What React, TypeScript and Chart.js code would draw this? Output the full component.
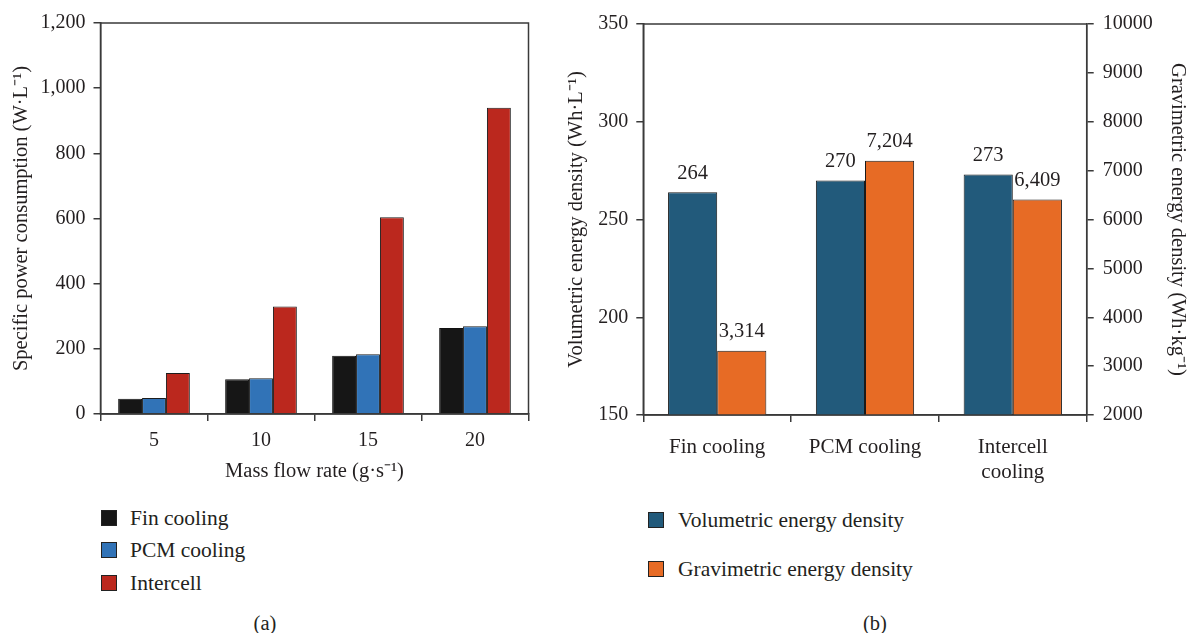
import React, { useEffect, useRef } from "react";
import { Chart, registerables } from "chart.js";

Chart.register(...registerables);

// ---------- data: chart (a) ----------
const flowRates = ["5", "10", "15", "20"];
const finCooling = [47, 107, 179, 264];
const pcmCooling = [49, 110, 183, 269];
const intercell = [126, 330, 604, 940];
const powerTicks = { min: 0, max: 1200, step: 200 };

// ---------- data: chart (b) ----------
const methods: (string | string[])[] = ["Fin cooling", "PCM cooling", ["Intercell", "cooling"]];
const volumetric = [264, 270, 273];
const gravimetric = [3314, 7204, 6409];
const volTicks = { min: 150, max: 350, step: 50 };
const gravTicks = { min: 2000, max: 10000, step: 1000 };

const C_FIN = "#161616";
const C_PCM = "#3173b7";
const C_INT = "#bb281e";
const C_VOL = "#225a7b";
const C_GRAV = "#e76b25";
const AXIS = "#3a3a3a";
const TEXT = "#231f20";
const FONT = "'Liberation Serif', 'Times New Roman', serif";

const boxPlugin = {
  id: "box",
  afterDraw(chart: any) {
    const { ctx, chartArea: a } = chart;
    ctx.save();
    ctx.strokeStyle = AXIS;
    ctx.lineWidth = 1.5;
    ctx.strokeRect(a.left, a.top, a.right - a.left, a.bottom - a.top);
    ctx.restore();
  },
};

const valueLabelPlugin = {
  id: "valueLabels",
  afterDatasetsDraw(chart: any) {
    const { ctx } = chart;
    ctx.save();
    ctx.font = `20.5px ${FONT}`;
    ctx.fillStyle = TEXT;
    ctx.textAlign = "center";
    ctx.textBaseline = "middle";
    chart.data.datasets.forEach((ds: any, di: number) => {
      const meta = chart.getDatasetMeta(di);
      meta.data.forEach((bar: any, i: number) => {
        const v = ds.data[i];
        ctx.fillText(Number(v).toLocaleString("en-US"), bar.x, bar.y - 19);
      });
    });
    ctx.restore();
  },
};

function yAxisCommon(tickPadding: number) {
  return {
    grid: { drawOnChartArea: false, drawTicks: true, tickLength: 7, color: AXIS, lineWidth: 1.5 },
    border: { display: true, color: AXIS, width: 1.5 },
    ticks: { color: TEXT, padding: tickPadding, font: { size: 20, family: FONT } },
  };
}

export default function App() {
  const refA = useRef<HTMLCanvasElement>(null);
  const refB = useRef<HTMLCanvasElement>(null);

  useEffect(() => {
    Chart.defaults.font.family = FONT;
    Chart.defaults.font.size = 20;
    Chart.defaults.color = TEXT;

    const chartA = new Chart(refA.current!, {
      type: "bar",
      data: {
        labels: flowRates,
        datasets: [
          { label: "Fin cooling", data: finCooling, backgroundColor: C_FIN, borderColor: "#111", borderWidth: 1 },
          { label: "PCM cooling", data: pcmCooling, backgroundColor: C_PCM, borderColor: "#1d1d1d", borderWidth: 1 },
          { label: "Intercell", data: intercell, backgroundColor: C_INT, borderColor: "#1d1d1d", borderWidth: 1 },
        ],
      },
      options: {
        animation: false,
        responsive: false,
        maintainAspectRatio: false,
        layout: { padding: { top: 23, right: 1.5, left: 0, bottom: 0 } },
        datasets: { bar: { categoryPercentage: 0.67, barPercentage: 1.0 } },
        plugins: { legend: { display: false }, tooltip: { enabled: false } },
        scales: {
          x: {
            grid: { offset: true, drawOnChartArea: false, drawTicks: true, tickLength: 7, color: AXIS, lineWidth: 1.5 },
            border: { display: true, color: AXIS, width: 1.5 },
            ticks: { color: TEXT, padding: 8, font: { size: 20, family: FONT } },
            title: {
              display: true,
              text: "Mass flow rate (g·s⁻¹)",
              color: TEXT,
              font: { size: 20.5, family: FONT },
              padding: { top: 0, bottom: 11 },
            },
            afterFit: (s: any) => { s.height = 81; },
          },
          y: {
            ...yAxisCommon(8),
            min: powerTicks.min,
            max: powerTicks.max,
            ticks: { ...yAxisCommon(8).ticks, stepSize: powerTicks.step },
            title: {
              display: true,
              text: "Specific power consumption (W·L⁻¹)",
              color: TEXT,
              font: { size: 20.5, family: FONT },
              padding: { top: 9, bottom: 0 },
            },
            afterFit: (s: any) => { s.width = 100.5; },
          },
        },
      },
      plugins: [boxPlugin],
    } as any);

    const chartB = new Chart(refB.current!, {
      type: "bar",
      data: {
        labels: methods,
        datasets: [
          { label: "Volumetric energy density", data: volumetric, yAxisID: "y", backgroundColor: C_VOL, borderColor: "#1a1a1a", borderWidth: 1 },
          { label: "Gravimetric energy density", data: gravimetric, yAxisID: "y2", backgroundColor: C_GRAV, borderColor: "#1a1a1a", borderWidth: 1 },
        ],
      },
      options: {
        animation: false,
        responsive: false,
        maintainAspectRatio: false,
        layout: { padding: { top: 24, right: 0, left: 0, bottom: 0 } },
        datasets: { bar: { categoryPercentage: 0.665, barPercentage: 1.0 } },
        plugins: { legend: { display: false }, tooltip: { enabled: false } },
        scales: {
          x: {
            grid: { offset: true, drawOnChartArea: false, drawTicks: true, tickLength: 7, color: AXIS, lineWidth: 1.5 },
            border: { display: true, color: AXIS, width: 1.5 },
            ticks: { color: TEXT, padding: 13, font: { size: 21, family: FONT } },
            afterFit: (s: any) => { s.height = 80; },
          },
          y: {
            ...yAxisCommon(8),
            position: "left",
            min: volTicks.min,
            max: volTicks.max,
            ticks: { ...yAxisCommon(8).ticks, stepSize: volTicks.step },
            title: {
              display: true,
              text: "Volumetric energy density (Wh·L⁻¹)",
              color: TEXT,
              font: { size: 20.5, family: FONT },
              padding: { top: 4, bottom: 0 },
            },
            afterFit: (s: any) => { s.width = 83.3; },
          },
          y2: {
            ...yAxisCommon(9),
            position: "right",
            min: gravTicks.min,
            max: gravTicks.max,
            ticks: { ...yAxisCommon(9).ticks, stepSize: gravTicks.step, callback: (v: any) => String(v) },
            title: {
              display: true,
              text: "Gravimetric energy density (Wh·kg⁻¹)",
              color: TEXT,
              font: { size: 20.5, family: FONT },
              padding: { top: 0, bottom: 0 },
            },
            afterFit: (s: any) => { s.width = 103.3; },
          },
        },
      },
      plugins: [boxPlugin, valueLabelPlugin],
    } as any);

    return () => {
      chartA.destroy();
      chartB.destroy();
    };
  }, []);

  const legendItem = (color: string, label: string, left: number, cy: number, textLeft: number) => (
    <div key={label} style={{ position: "absolute", left, top: cy - 8, height: 16, display: "flex", alignItems: "center" }}>
      <div style={{ width: 16, height: 16, boxSizing: "border-box", background: color, border: "1px solid #222" }} />
      <span style={{ position: "absolute", left: textLeft - left, top: -5, whiteSpace: "nowrap", fontSize: 21.5, lineHeight: "26px", fontFamily: FONT, color: TEXT }}>
        {label}
      </span>
    </div>
  );

  return (
    <div style={{ position: "absolute", left: 0, top: 0, width: 1190, height: 633, background: "#fff", overflow: "hidden", fontFamily: FONT }}>
      <canvas ref={refA} width={530} height={495} style={{ position: "absolute", left: 0, top: 0, width: 530, height: 495 }} />
      <canvas ref={refB} width={630} height={495} style={{ position: "absolute", left: 560, top: 0, width: 630, height: 495 }} />
      {legendItem(C_FIN, "Fin cooling", 101, 518, 130)}
      {legendItem(C_PCM, "PCM cooling", 101, 550, 130)}
      {legendItem(C_INT, "Intercell", 101, 582.5, 130)}
      {legendItem(C_VOL, "Volumetric energy density", 648, 520, 678)}
      {legendItem(C_GRAV, "Gravimetric energy density", 648, 569, 678)}
      <div style={{ position: "absolute", left: 215, width: 100, top: 611, textAlign: "center", fontSize: 20.5, lineHeight: "24px", color: TEXT }}>(a)</div>
      <div style={{ position: "absolute", left: 825, width: 100, top: 611, textAlign: "center", fontSize: 20.5, lineHeight: "24px", color: TEXT }}>(b)</div>
    </div>
  );
}
